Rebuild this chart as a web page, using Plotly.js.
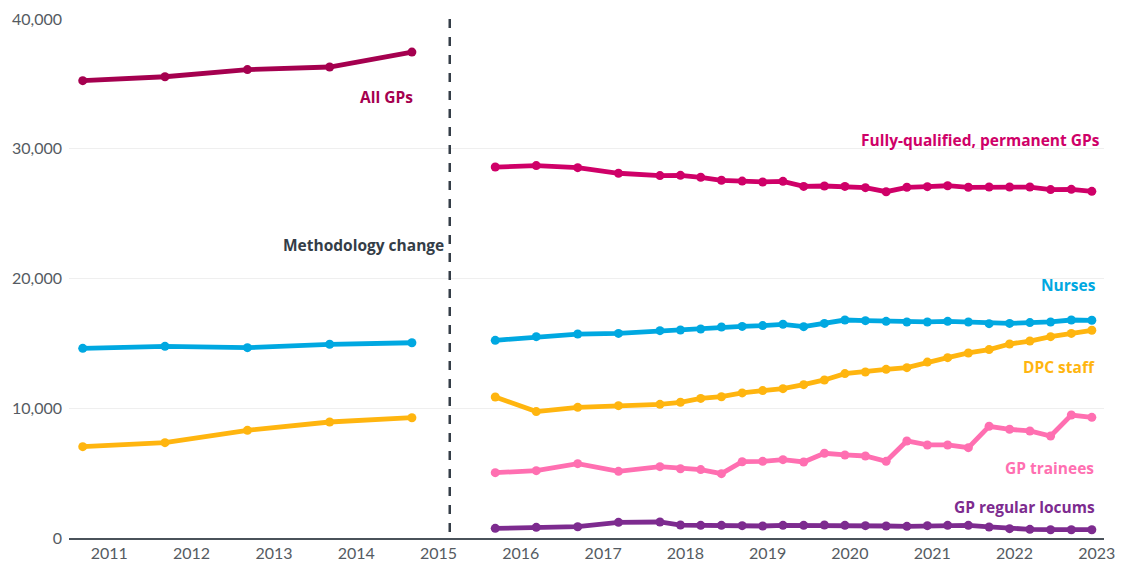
<!DOCTYPE html>
<html>
<head>
<meta charset="utf-8">
<script src="https://cdn.plot.ly/plotly-3.0.1.min.js"></script>
<style>
html,body{margin:0;padding:0;background:#fff;}
#chart{width:1121px;height:566px;}
</style>
</head>
<body>
<div id="chart"></div>
<script>
// ---- Data: old methodology (annual, September) ----
const datesOld = ["2010-09-05","2011-09-05","2012-09-05","2013-09-05","2014-09-05"];
const allGPs      = [35250, 35550, 36100, 36300, 37450];
const nursesOld   = [14620, 14770, 14670, 14930, 15050];
const dpcOld      = [7040, 7350, 8300, 8940, 9270];

// ---- Data: new methodology ----
const datesNew = ["2015-09-10","2016-03-10","2016-09-10","2017-03-10","2017-09-10","2017-12-10",
  "2018-03-10","2018-06-10","2018-09-10","2018-12-10","2019-03-10","2019-06-10","2019-09-10","2019-12-10",
  "2020-03-10","2020-06-10","2020-09-10","2020-12-10","2021-03-10","2021-06-10","2021-09-10","2021-12-10",
  "2022-03-10","2022-06-10","2022-09-10","2022-12-10"];
const fqGPs    = [28590, 28700, 28540, 28110, 27930, 27950, 27800, 27570, 27510, 27440, 27490, 27100, 27130,
  27100, 27000, 26690, 27030, 27080, 27150, 27030, 27050, 27050, 27050, 26850, 26870, 26720];
const nursesNew = [15235, 15520, 15720, 15770, 15980, 16030, 16110, 16260, 16310, 16370, 16470, 16290, 16540,
  16800, 16750, 16700, 16650, 16650, 16700, 16650, 16520, 16540, 16600, 16650, 16800, 16780];
const dpcNew = [10870, 9740, 10070, 10200, 10300, 10460, 10760, 10890, 11180, 11360, 11510, 11820, 12180,
  12670, 12790, 13000, 13130, 13560, 13900, 14260, 14520, 14950, 15180, 15520, 15770, 16010];
const trainees = [5035, 5190, 5730, 5140, 5500, 5340, 5270, 4960, 5880, 5910, 6040, 5860, 6530,
  6400, 6320, 5910, 7480, 7170, 7170, 6960, 8610, 8380, 8250, 7860, 9480, 9300];
const locums = [745, 820, 870, 1205, 1235, 1000, 975, 975, 950, 925, 975, 975, 1000,
  975, 950, 925, 900, 950, 975, 975, 850, 720, 670, 640, 640, 640];

const methodologyChangeDate = "2015-02-20";
const yTicks = [0, 10000, 20000, 30000, 40000];

// ---- Styles ----
const C = {
  all: "#a5004f", fq: "#cf0068", nurses: "#00a8e1", dpc: "#ffb50f",
  trainees: "#ff6fb1", locums: "#7d2b8f", dark: "#343d47"
};
const TICKFONT = "Lato, 'Open Sans', sans-serif";
const LABELFONT = "'Open Sans', Lato, sans-serif";

function tr(x, y, color) {
  return {
    x: x, y: y, type: "scatter", mode: "lines+markers",
    line: {color: color, width: 4.8},
    marker: {color: color, size: 9},
    hoverinfo: "x+y", showlegend: false
  };
}

const traces = [
  tr(datesOld, allGPs, C.all),
  tr(datesOld, nursesOld, C.nurses),
  tr(datesOld, dpcOld, C.dpc),
  tr(datesNew, fqGPs, C.fq),
  tr(datesNew, nursesNew, C.nurses),
  tr(datesNew, dpcNew, C.dpc),
  tr(datesNew, trainees, C.trainees),
  tr(datesNew, locums, C.locums)
];

function label(text, x, y, color) {
  return {
    text: text, xref: "paper", yref: "paper", x: x, y: y,
    xanchor: "right", yanchor: "middle", showarrow: false,
    font: {family: LABELFONT, size: 15.5, color: color, weight: 700}
  };
}

const layout = {
  width: 1121, height: 566,
  margin: {l: 69, r: 17, t: 19, b: 28},
  paper_bgcolor: "#ffffff", plot_bgcolor: "#ffffff",
  font: {family: TICKFONT, size: 16, color: "#555b62"},
  showlegend: false,
  xaxis: {
    type: "date",
    range: ["2010-07-06", "2023-02-02"],
    tick0: "2011-01-01", dtick: "M12", tickformat: "%Y",
    showgrid: false, zeroline: false,
    showline: true, linecolor: "#4a525a", linewidth: 1.5,
    ticks: "", tickfont: {family: TICKFONT, size: 16, color: "#555b62"},
    fixedrange: true
  },
  yaxis: {
    range: [0, 40000],
    tickvals: yTicks, tickformat: ",",
    showgrid: true, gridcolor: "#efefef", gridwidth: 1,
    zeroline: false, showline: false, ticks: "",
    ticklabelstandoff: 6,
    tickfont: {family: TICKFONT, size: 16, color: "#555b62"},
    fixedrange: true
  },
  shapes: [{
    type: "line", xref: "x", yref: "paper",
    x0: methodologyChangeDate, x1: methodologyChangeDate, y0: 1, y1: 0,
    line: {color: C.dark, width: 2.5, dash: "dash"}
  }],
  annotations: [
    label("All GPs", 0.3343, 0.8497, C.all),
    label("Methodology change", 0.3643, 0.5645, C.dark),
    label("Fully-qualified, permanent GPs", 0.998, 0.7669, C.fq),
    label("Nurses", 0.9942, 0.4875, C.nurses),
    label("DPC staff", 0.9932, 0.3295, C.dpc),
    label("GP trainees", 0.9923, 0.1349, C.trainees),
    label("GP regular locums", 0.9932, 0.0597, C.locums)
  ]
};

Plotly.newPlot("chart", traces, layout, {displayModeBar: false, responsive: false});
</script>
</body>
</html>
